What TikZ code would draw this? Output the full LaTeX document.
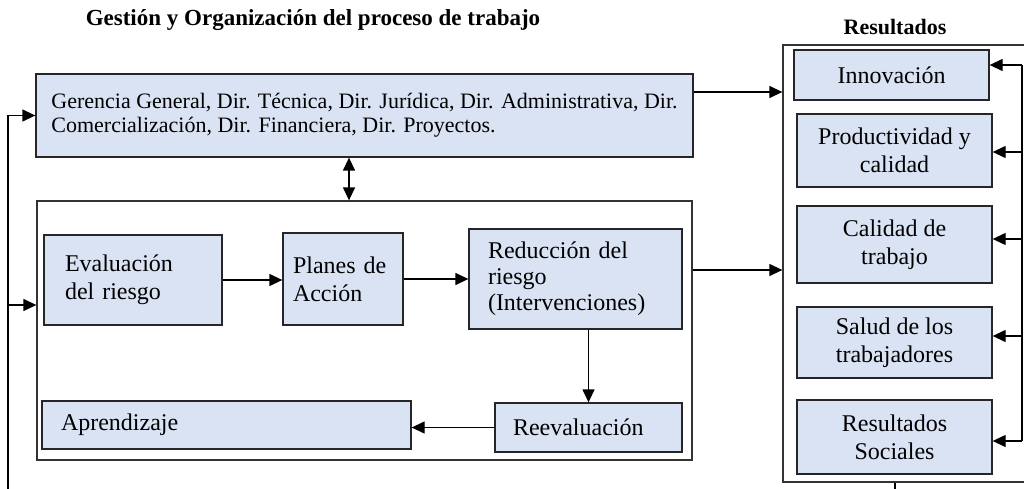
\documentclass[tikz,border=0pt]{standalone}
\usepackage{fontspec}
\setmainfont{Liberation Serif}
\usetikzlibrary{arrows.meta}
\definecolor{boxblue}{HTML}{DAE3F3}

\begin{document}
\begin{tikzpicture}[x=1pt, y=-1pt,
    box/.style={draw=black!85, line width=1.3pt, fill=boxblue, inner ysep=0pt,
                font=\fontsize{24}{28}\selectfont},
    lbox/.style={box, align=left, inner xsep=20pt},
    cbox/.style={box, align=center, minimum width=195pt},
    frame/.style={draw=black!80, line width=1.3pt},
    title/.style={font=\fontsize{22}{26}\selectfont\bfseries},
    line/.style={line width=1.3pt},
    >={Triangle[length=13pt, width=12pt]}
  ]
  \useasboundingbox (0,0) rectangle (1024,489);

  \node[title, font=\fontsize{23}{26}\selectfont\bfseries] (t1) at (313,20)
    {Gestión y Organización del proceso de trabajo};
  \node[title] (t2) at (895,27) {Resultados};

  % management block
  \node[lbox, inner xsep=8pt, minimum width=657pt, minimum height=83pt,
        font=\fontsize{22}{24}\selectfont] (ger) at (364.5,115.5)
    {Gerencia General, Dir. Técnica, Dir. Jurídica, Dir. Administrativa, Dir.\\
     Comercialización, Dir. Financiera, Dir. Proyectos.};

  % process frame
  \node[frame, minimum width=655pt, minimum height=259pt] (proc) at (364.5,330.5) {};
  \node[lbox, text width=136pt, inner xsep=21pt, minimum height=90pt] (eval) at (133,280)
    {Evaluación\\del riesgo};
  \node[lbox, text width=100pt, inner xsep=10pt, minimum height=92pt] (plan) at (343,279)
    {Planes de\\Acción};
  \node[lbox, text width=175pt, inner xsep=19pt, minimum height=100pt,
        font=\fontsize{24}{26}\selectfont] (red) at (575.5,279)
    {Reducción del\\riesgo\\(Intervenciones)};
  \node[lbox, text width=151pt, inner xsep=18pt, minimum height=49pt] (reev) at (588.5,427.5)
    {Reevaluación};
  \node[lbox, text width=331pt, inner xsep=19pt, minimum height=48pt] (apr) at (226.5,425)
    {Aprendizaje};

  % results
  \node[frame, minimum width=243pt, minimum height=437pt] (res) at (904.5,263.5) {};
  \node[cbox, minimum height=50pt] (inn) at (891.5,75) {Innovación};
  \node[cbox, minimum height=73pt] (prod) at (894.5,150.5) {Productividad y\\calidad};
  \node[cbox, minimum height=77pt] (cal) at (894.5,244.5) {Calidad de\\trabajo};
  \node[cbox, minimum height=71pt] (sal) at (894.5,342.5) {Salud de los\\trabajadores};
  \node[cbox, minimum height=74pt] (soc) at (894.5,437) {Resultados\\Sociales};

  % process arrows
  \draw[line, ->] (eval.east) -- (plan.west |- eval.east);
  \draw[line, ->] (plan.east) -- (red.west |- plan.east);
  \draw[line, ->] (reev.north |- red.south) -- (reev.north);
  \draw[line, ->] (reev.west) -- (apr.east |- reev.west);

  \coordinate (dbl) at (349,0);
  \draw[line, <->] (ger.south -| dbl) -- (proc.north -| dbl);

  % into results
  \coordinate (o1) at (0,92);
  \coordinate (o2) at (0,270);
  \draw[line, ->] (ger.east |- o1) -- (res.west |- o1);
  \draw[line, ->] (proc.east |- o2) -- (res.west |- o2);

  % feedback right
  \foreach \n/\y [count=\i] in {inn/65, prod/152, cal/239, sal/336, soc/441} {
    \coordinate (fb\i) at (1022,\y);
    \draw[line, ->] (fb\i) -- (\n.east |- fb\i);
  }
  \draw[line] (fb1) -- (fb5);

  % feedback left
  \coordinate (lb) at (8,495);
  \coordinate (l2) at (0,305);
  \draw[line, ->] (lb) |- (ger.west);
  \draw[line, ->] (lb |- l2) -- (proc.west |- l2);

  \coordinate (tk) at (895,495);
  \draw[line] (res.south -| tk) -- (tk);
\end{tikzpicture}
\end{document}
